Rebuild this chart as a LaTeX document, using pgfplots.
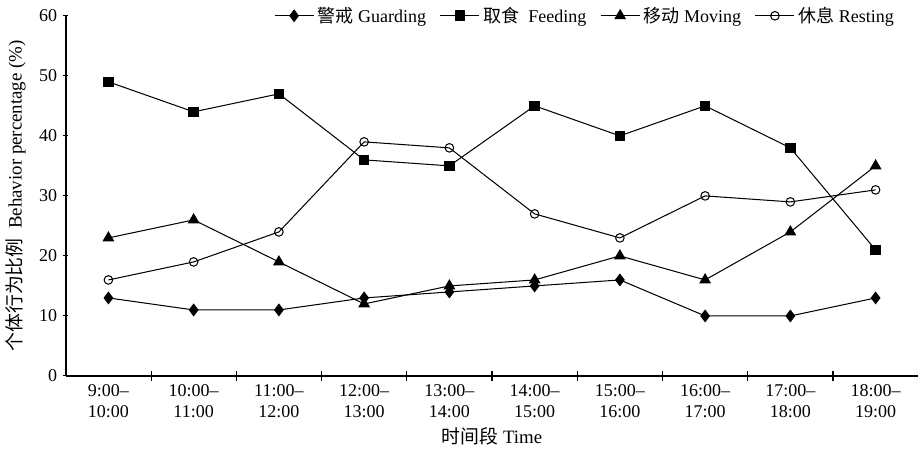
\documentclass[border=0pt]{standalone}
\usepackage{pgfplots}
\pgfplotsset{compat=1.18}
\usepackage{fontspec}
\setmainfont{Liberation Serif}
\newfontfamily\cjk{Noto Sans CJK SC}
\begin{document}
\begin{tikzpicture}
\begin{axis}[
  scale only axis,
  width=497pt, height=210pt,
  xmin=-0.5, xmax=9.5, ymin=0, ymax=60,
  axis x line=bottom, axis y line=left,
  axis line style={-, line width=0.9pt},
  xtick={0,...,9},
  xticklabels={{9:00--\\10:00},{10:00--\\11:00},{11:00--\\12:00},{12:00--\\13:00},{13:00--\\14:00},{14:00--\\15:00},{15:00--\\16:00},{16:00--\\17:00},{17:00--\\18:00},{18:00--\\19:00}},
  x tick label style={align=center, font=\fontsize{10.5}{12}\selectfont},
  major x tick style={draw=none},
  minor xtick={0.5,1.5,...,8.5},
  minor x tick style={black, line width=0.6pt},
  minor tick length=6pt,
  ytick={0,10,...,60},
  major y tick style={black, line width=0.6pt},
  major tick length=3pt,
  y tick label style={font=\fontsize{10.5}{12}\selectfont},
  /pgf/number format/assume math mode=true,
  xlabel={{\cjk 时间段} Time},
  ylabel={{\cjk 个体行为比例}\ \ Behavior percentage (\%)},
  label style={font=\fontsize{11}{13}\selectfont},
  xlabel style={yshift=1pt},
  ylabel style={yshift=1pt},
  legend style={at={(0.982,1)}, anchor=east, draw=none, fill=none, font=\fontsize{10.5}{12}\selectfont, legend columns=4, /tikz/every even column/.append style={column sep=6pt}},
  legend image code/.code={\draw[mark repeat=2,mark phase=2] plot coordinates {(0cm,0cm)(0.4cm,0cm)(0.8cm,0cm)};},
  every axis plot/.append style={black, line width=0.6pt},
  clip=false,
]
\addplot[mark=diamond*, mark size=3.3pt, mark options={fill=black}] coordinates {(0,13)(1,11)(2,11)(3,13)(4,14)(5,15)(6,16)(7,10)(8,10)(9,13)};
\addlegendentry{{\cjk 警戒} Guarding}
\addplot[mark=square*, mark size=2.8pt, mark options={fill=black}] coordinates {(0,49)(1,44)(2,47)(3,36)(4,35)(5,45)(6,40)(7,45)(8,38)(9,21)};
\addlegendentry{{\cjk 取食}\ \ Feeding}
\addplot[mark=triangle*, mark size=3.4pt, mark options={fill=black}] coordinates {(0,23)(1,26)(2,19)(3,12)(4,15)(5,16)(6,20)(7,16)(8,24)(9,35)};
\addlegendentry{{\cjk 移动} Moving}
\addplot[mark=o, mark size=2.5pt, mark options={fill=white}] coordinates {(0,16)(1,19)(2,24)(3,39)(4,38)(5,27)(6,23)(7,30)(8,29)(9,31)};
\addlegendentry{{\cjk 休息} Resting}
\end{axis}
\end{tikzpicture}
\end{document}
